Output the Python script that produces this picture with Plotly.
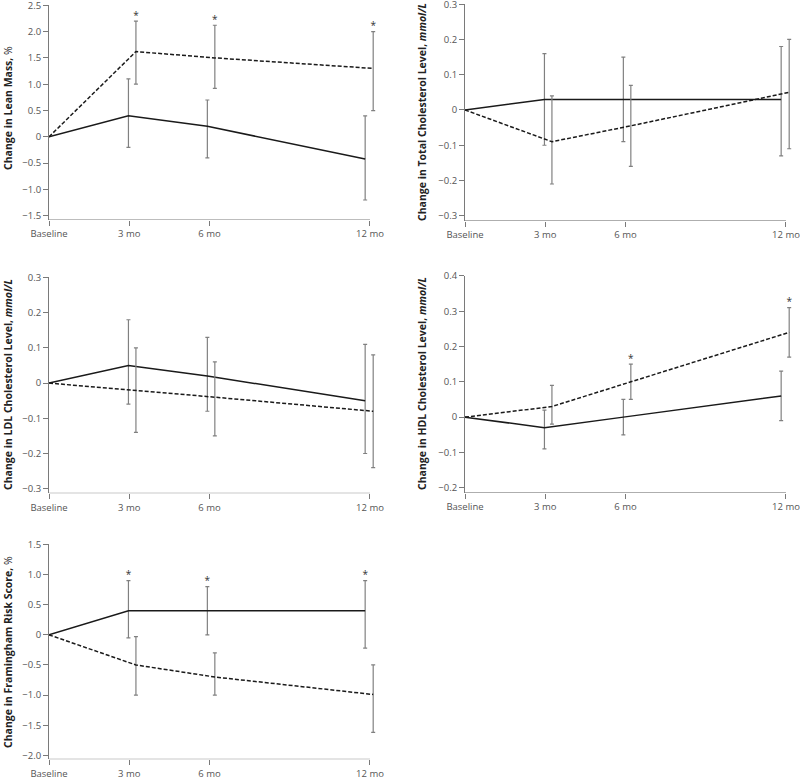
import plotly.graph_objects as go

# ---------------- data ----------------
months = [0, 3, 6, 12]
tick_labels = ["Baseline", "3 mo", "6 mo", "12 mo"]

# small horizontal jitter (months) applied so the two groups' error bars don't overlap
solid_jitter = [0, -0.03, -0.08, -0.18]
dashed_jitter = [0, 0.25, 0.20, 0.12]

# Panel 1: lean mass (%)
lean_solid = [0, 0.40, 0.20, -0.42]
lean_solid_lo = [0, -0.20, -0.40, -1.20]
lean_solid_hi = [0, 1.10, 0.70, 0.40]
lean_dashed = [0, 1.62, 1.50, 1.30]
lean_dashed_lo = [0, 1.00, 0.92, 0.50]
lean_dashed_hi = [0, 2.20, 2.12, 2.00]
lean_star_solid = [False, False, False, False]
lean_star_dashed = [False, True, True, True]

# Panel 2: total cholesterol (mmol/L)
tc_solid = [0, 0.03, 0.03, 0.03]
tc_solid_lo = [0, -0.10, -0.09, -0.13]
tc_solid_hi = [0, 0.16, 0.15, 0.18]
tc_dashed = [0, -0.09, -0.045, 0.05]
tc_dashed_lo = [0, -0.21, -0.16, -0.11]
tc_dashed_hi = [0, 0.04, 0.07, 0.20]
tc_star_solid = [False, False, False, False]
tc_star_dashed = [False, False, False, False]

# Panel 3: LDL cholesterol (mmol/L)
ldl_solid = [0, 0.05, 0.02, -0.05]
ldl_solid_lo = [0, -0.06, -0.08, -0.20]
ldl_solid_hi = [0, 0.18, 0.13, 0.11]
ldl_dashed = [0, -0.02, -0.04, -0.08]
ldl_dashed_lo = [0, -0.14, -0.15, -0.24]
ldl_dashed_hi = [0, 0.10, 0.06, 0.08]
ldl_star_solid = [False, False, False, False]
ldl_star_dashed = [False, False, False, False]

# Panel 4: HDL cholesterol (mmol/L)
hdl_solid = [0, -0.03, 0.0, 0.06]
hdl_solid_lo = [0, -0.09, -0.05, -0.01]
hdl_solid_hi = [0, 0.02, 0.05, 0.13]
hdl_dashed = [0, 0.03, 0.10, 0.24]
hdl_dashed_lo = [0, -0.02, 0.05, 0.17]
hdl_dashed_hi = [0, 0.09, 0.15, 0.31]
hdl_star_solid = [False, False, False, False]
hdl_star_dashed = [False, False, True, True]

# Panel 5: Framingham risk score (%)
frs_solid = [0, 0.40, 0.40, 0.40]
frs_solid_lo = [0, -0.05, 0.0, -0.22]
frs_solid_hi = [0, 0.90, 0.80, 0.90]
frs_dashed = [0, -0.50, -0.70, -0.99]
frs_dashed_lo = [0, -1.00, -1.00, -1.62]
frs_dashed_hi = [0, -0.03, -0.30, -0.50]
frs_star_solid = [False, True, True, True]
frs_star_dashed = [False, False, False, False]

titles = [
    "<b>Change in Lean Mass, </b>%",
    "<b>Change in Total Cholesterol Level, <i>mmol/L</i></b>",
    "<b>Change in LDL Cholesterol Level, <i>mmol/L</i></b>",
    "<b>Change in HDL Cholesterol Level, <i>mmol/L</i></b>",
    "<b>Change in Framingham Risk Score, </b>%",
]
yticks = [
    [2.5, 2.0, 1.5, 1.0, 0.5, 0, -0.5, -1.0, -1.5],
    [0.3, 0.2, 0.1, 0, -0.1, -0.2, -0.3],
    [0.3, 0.2, 0.1, 0, -0.1, -0.2, -0.3],
    [0.4, 0.3, 0.2, 0.1, 0, -0.1, -0.2],
    [1.5, 1.0, 0.5, 0, -0.5, -1.0, -1.5, -2.0],
]
yranges = [[-1.58, 2.505], [-0.314, 0.3005], [-0.313, 0.3005], [-0.214, 0.4005], [-2.066, 1.503]]

panels = [
    (lean_solid, lean_solid_lo, lean_solid_hi, lean_dashed, lean_dashed_lo, lean_dashed_hi, lean_star_solid, lean_star_dashed),
    (tc_solid, tc_solid_lo, tc_solid_hi, tc_dashed, tc_dashed_lo, tc_dashed_hi, tc_star_solid, tc_star_dashed),
    (ldl_solid, ldl_solid_lo, ldl_solid_hi, ldl_dashed, ldl_dashed_lo, ldl_dashed_hi, ldl_star_solid, ldl_star_dashed),
    (hdl_solid, hdl_solid_lo, hdl_solid_hi, hdl_dashed, hdl_dashed_lo, hdl_dashed_hi, hdl_star_solid, hdl_star_dashed),
    (frs_solid, frs_solid_lo, frs_solid_hi, frs_dashed, frs_dashed_lo, frs_dashed_hi, frs_star_solid, frs_star_dashed),
]

# ---------------- layout geometry (pixels) ----------------
W, H = 800, 778
# (x_left_px, x_right_px, y_top_px, y_bottom_px)
boxes = [
    (49, 378, 5, 220),
    (465, 794, 4, 220.7),
    (49, 378, 277.3, 493.3),
    (465, 794, 275.7, 492.7),
    (49, 378, 544.3, 759.3),
]
title_pos = [(8, 108), (422, 112), (8, 385), (422, 384), (8, 652)]

AX = "#7a7a7a"
TXT = "#555555"
ERR = "#808080"
LINE = "#1a1a1a"
FONT = "Open Sans, Noto Sans, sans-serif"


def fmt(v):
    if v == 0:
        return "0"
    s = f"{abs(v):.1f}"
    return ("\u2212" + s) if v < 0 else s


fig = go.Figure()
layout = dict(
    template="none",
    width=W, height=H, margin=dict(l=0, r=0, t=0, b=0, pad=0),
    paper_bgcolor="white", plot_bgcolor="white", showlegend=False,
    font=dict(family=FONT, size=9.5, color=TXT),
)
shapes = []
annotations = []

for i, (p, box) in enumerate(zip(panels, boxes)):
    s, s_lo, s_hi, d, d_lo, d_hi, st_s, st_d = p
    n = "" if i == 0 else str(i + 1)
    xa, ya = "x" + n, "y" + n
    xs = [m + j for m, j in zip(months, solid_jitter)]
    xd = [m + j for m, j in zip(months, dashed_jitter)]

    for xv, yv, lo, hi, star, dash in ((xs, s, s_lo, s_hi, st_s, "solid"), (xd, d, d_lo, d_hi, st_d, "dash")):
        # error bars (not at baseline)
        fig.add_trace(go.Scatter(
            x=xv[1:], y=yv[1:], xaxis=xa, yaxis=ya, mode="markers",
            marker=dict(size=1, color="rgba(0,0,0,0)"),
            error_y=dict(type="data", symmetric=False,
                         array=[h - m for h, m in zip(hi[1:], yv[1:])],
                         arrayminus=[m - l for m, l in zip(yv[1:], lo[1:])],
                         color=ERR, thickness=1.2, width=2),
            hoverinfo="skip", cliponaxis=False,
        ))
        fig.add_trace(go.Scatter(
            x=xv, y=yv, xaxis=xa, yaxis=ya, mode="lines",
            line=dict(color=LINE, width=1.5, dash="4px,2px" if dash == "dash" else "solid"),
            hoverinfo="skip",
        ))
        sx = [x for x, f in zip(xv, star) if f]
        sy = [h for h, f in zip(hi, star) if f]
        if sx:
            fig.add_trace(go.Scatter(
                x=sx, y=sy, xaxis=xa, yaxis=ya, mode="text", text=["*"] * len(sx),
                textposition="top center", textfont=dict(size=10, color="#333333"),
                cliponaxis=False, hoverinfo="skip",
            ))

    x0, x1, y0, y1 = box
    layout["xaxis" + n] = dict(
        domain=[x0 / W, x1 / W], range=[0, 12.3], anchor=ya, automargin=False,
        tickvals=months, ticktext=tick_labels, ticks="outside", ticklen=5,
        tickcolor=AX, tickwidth=1, showline=False, showgrid=False, zeroline=False,
        ticklabeloverflow="allow",
        tickfont=dict(size=9.5, color=TXT, family=FONT),
    )
    layout["yaxis" + n] = dict(
        domain=[1 - y1 / H, 1 - y0 / H], range=yranges[i], anchor=xa, automargin=False,
        tickvals=yticks[i], ticktext=[fmt(v) for v in yticks[i]],
        ticks="outside", ticklen=5, tickcolor=AX, tickwidth=1,
        showline=True, linecolor=AX, linewidth=1, mirror=False,
        showgrid=False, zeroline=False, ticklabeloverflow="allow",
        tickfont=dict(size=9.5, color=TXT, family=FONT),
    )
    # x axis line from baseline to 12 mo
    shapes.append(dict(type="line", xref=xa, yref=ya, x0=0, x1=12,
                       y0=yranges[i][0], y1=yranges[i][0],
                       line=dict(color=AX, width=1)))
    tx, ty = title_pos[i]
    annotations.append(dict(
        text=titles[i], xref="paper", yref="paper", x=tx / W, y=1 - ty / H,
        xanchor="center", yanchor="middle", textangle=-90, showarrow=False,
        font=dict(size=10.5, color="#222222", family=FONT),
    ))

layout["shapes"] = shapes
layout["annotations"] = annotations
fig.update_layout(**layout)
fig.write_html(
    "out.html",
    config={"displayModeBar": False},
    post_script="document.body.style.margin='0';document.body.style.padding='0';",
)
